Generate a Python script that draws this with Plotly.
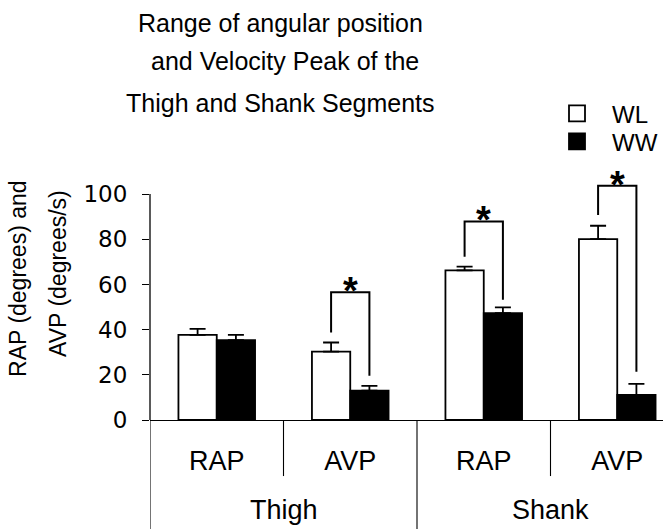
import plotly.graph_objects as go

# ---- data ----
groups = ["Thigh", "Shank"]
measures = ["RAP", "AVP", "RAP", "AVP"]
series_names = ["WL", "WW"]
wl_values = [37.7, 30.3, 66.2, 80.1]
wl_errors = [2.6, 4.0, 1.7, 5.9]
ww_values = [35.4, 13.0, 47.3, 11.1]
ww_errors = [2.3, 2.1, 2.6, 4.9]
y_ticks = [0, 20, 40, 60, 80, 100]

# significance brackets: category index, top, left-leg bottom, right-leg bottom
sig_index = [1, 2, 3]
sig_top = [56.6, 87.9, 103.7]
sig_left_bottom = [38.7, 72.3, 90.8]
sig_right_bottom = [19.6, 53.2, 21.4]

# ---- layout constants (pixels) ----
W, H = 663, 529
ML, MR, MT, MB = 150, 0, 167.2, 109
PW, PH = W - ML - MR, H - MT - MB
FONT = "Liberation Sans, Arial, sans-serif"

def px_x(px):
    return (px - ML) / PW

def px_y(py):
    return (H - MB - py) / PH

cat_x = list(range(len(measures)))
bar_w = 0.287

fig = go.Figure()
fig.add_trace(go.Bar(
    x=cat_x, y=wl_values, name=series_names[0], showlegend=False,
    marker=dict(color="white", line=dict(color="black", width=1.8)),
    error_y=dict(type="data", array=wl_errors, arrayminus=[0] * 4, symmetric=False,
                 color="black", thickness=1.8, width=8),
))
fig.add_trace(go.Bar(
    x=cat_x, y=ww_values, name=series_names[1], showlegend=False,
    marker=dict(color="black", line=dict(color="black", width=1.8)),
    error_y=dict(type="data", array=ww_errors, arrayminus=[0] * 4, symmetric=False,
                 color="black", thickness=1.8, width=8),
))
# legend proxies (one legend each so the spacing can match)
fig.add_trace(go.Scatter(x=[None], y=[None], mode="markers", name=series_names[0],
                         legend="legend",
                         marker=dict(symbol="square", size=17, color="white",
                                     line=dict(color="black", width=1.8))))
fig.add_trace(go.Scatter(x=[None], y=[None], mode="markers", name=series_names[1],
                         legend="legend2",
                         marker=dict(symbol="square", size=17, color="black",
                                     line=dict(color="black", width=1.8))))

shapes = []
# y axis line only up to 100
shapes.append(dict(type="line", xref="paper", yref="y", x0=0, x1=0, y0=0, y1=y_ticks[-1],
                   line=dict(color="black", width=1.3)))
# category separators below axis
n = len(measures)
for k in range(n + 1):
    xb = k - 0.5
    long_sep = (k % 2 == 0)
    shapes.append(dict(type="line", xref="x", yref="paper", x0=xb, x1=xb,
                       y0=0, y1=px_y(H + 2) if long_sep else px_y(476),
                       line=dict(color="black", width=1.1)))
# significance brackets
annotations = []
for i, top, lb, rb in zip(sig_index, sig_top, sig_left_bottom, sig_right_bottom):
    xl = i - bar_w / 2
    xr = i + bar_w / 2
    shapes.append(dict(type="path", xref="x", yref="y",
                       path=f"M{xl},{lb} L{xl},{top} L{xr},{top} L{xr},{rb}",
                       line=dict(color="black", width=2)))
    annotations.append(dict(x=i, y=top, xref="x", yref="y", text="<b>*</b>",
                            showarrow=False, yanchor="middle", yshift=1,
                            font=dict(family=FONT, size=38, color="black")))

# title lines
title_lines = ["Range of angular position", "and Velocity Peak of the",
               "Thigh and Shank Segments"]
title_cx = [280, 285, 280]
title_cy = [23, 61.5, 103]
for t, cx, cy in zip(title_lines, title_cx, title_cy):
    annotations.append(dict(x=px_x(cx), y=px_y(cy), xref="paper", yref="paper",
                            text=t, showarrow=False, xanchor="center", yanchor="middle",
                            font=dict(family=FONT, size=25, color="black")))

# y axis title (two lines)
for t, cx, cy in zip(["RAP (degrees) and", "AVP (degrees/s)"], [18, 58], [279, 274]):
    annotations.append(dict(x=px_x(cx), y=px_y(cy), xref="paper", yref="paper",
                            text=t, textangle=-90, showarrow=False,
                            xanchor="center", yanchor="middle",
                            font=dict(family=FONT, size=23, color="black")))

# group labels
for gi, g in enumerate(groups):
    annotations.append(dict(x=2 * gi + 0.5, y=px_y(510), xref="x", yref="paper",
                            text=g, showarrow=False, xanchor="center", yanchor="middle",
                            font=dict(family=FONT, size=27, color="black")))

legend_style = dict(xanchor="left", yanchor="middle",
                    font=dict(family=FONT, size=24, color="black"),
                    itemwidth=60, bgcolor="rgba(0,0,0,0)")
fig.update_layout(
    width=W, height=H,
    margin=dict(l=ML, r=MR, t=MT, b=MB, pad=0, autoexpand=False),
    paper_bgcolor="white", plot_bgcolor="white",
    barmode="group", bargap=1 - 2 * bar_w, bargroupgap=0,
    font=dict(family=FONT, color="black"),
    shapes=shapes, annotations=annotations,
    legend=dict(x=px_x(542), y=px_y(114), **legend_style),
    legend2=dict(x=px_x(542), y=px_y(142), **legend_style),
)
fig.update_xaxes(
    range=[-0.5, -0.5 + PW / 133.5], tickvals=cat_x, ticktext=measures,
    showline=True, linecolor="black", linewidth=1.3, ticks="", showgrid=False,
    zeroline=False, tickfont=dict(family=FONT, size=27, color="black"),
    ticklabelstandoff=16, automargin=False,
)
fig.update_yaxes(
    range=[0, 112], tickvals=y_ticks, showline=False, ticks="outside", ticklen=7,
    tickwidth=1.2, tickcolor="black", showgrid=False, zeroline=False, automargin=False,
    tickfont=dict(family="DejaVu Sans", size=23, color="black"), ticklabelstandoff=10,
)
fig.write_html("out.html", config={"displayModeBar": False},
               post_script="document.body.style.margin='0px';document.body.style.overflow='hidden';")
